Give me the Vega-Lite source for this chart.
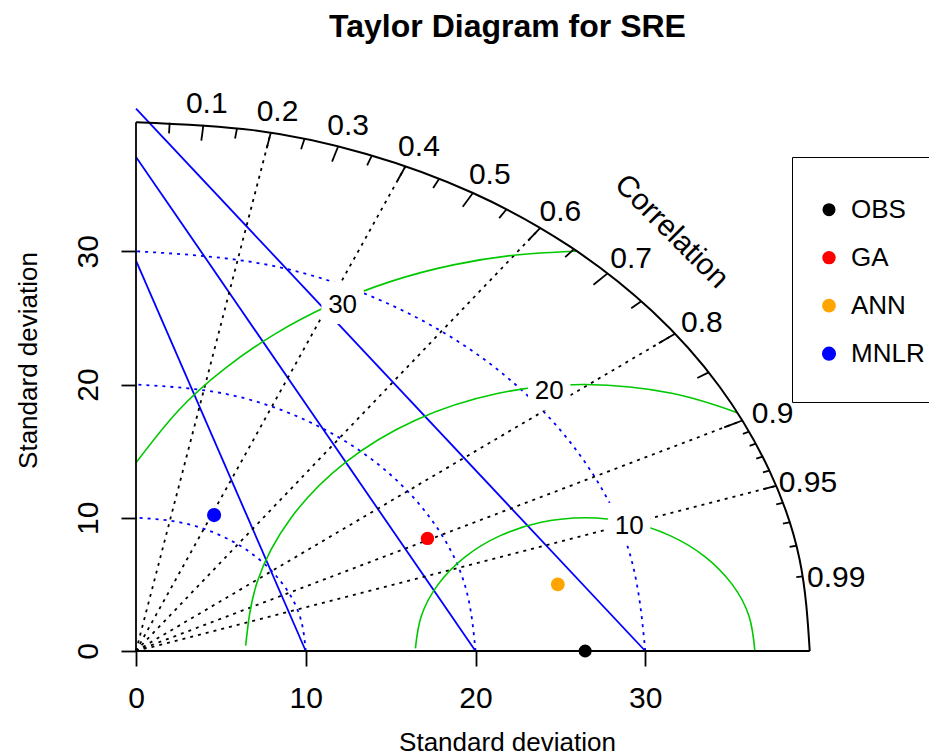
{
  "$schema": "https://vega.github.io/schema/vega-lite/v6.json",
  "width": 679,
  "height": 533,
  "autosize": {"type": "none"},
  "padding": {"left": 136, "top": 118, "right": 114, "bottom": 103},
  "background": "white",
  "title": {"text": "Taylor Diagram for SRE", "fontSize": 32, "fontWeight": "bold", "font": "Liberation Sans", "color": "black", "anchor": "middle", "frame": "group", "dx": 32, "baseline": "alphabetic", "offset": 20},
  "config": {"view": {"stroke": null}, "font": "Liberation Sans"},
  "datasets": {
    "curves": [
      {"kind": "outer", "g": "o", "i": 0, "x": 39.69, "y": 0},
      {"kind": "outer", "g": "o", "i": 1, "x": 39.09, "y": 6.89},
      {"kind": "outer", "g": "o", "i": 2, "x": 37.30, "y": 13.57},
      {"kind": "outer", "g": "o", "i": 3, "x": 34.37, "y": 19.85},
      {"kind": "outer", "g": "o", "i": 4, "x": 30.40, "y": 25.51},
      {"kind": "outer", "g": "o", "i": 5, "x": 25.51, "y": 30.40},
      {"kind": "outer", "g": "o", "i": 6, "x": 19.85, "y": 34.37},
      {"kind": "outer", "g": "o", "i": 7, "x": 13.57, "y": 37.30},
      {"kind": "outer", "g": "o", "i": 8, "x": 6.89, "y": 39.09},
      {"kind": "outer", "g": "o", "i": 9, "x": 0, "y": 39.69},
      {"kind": "sd", "g": "s10", "i": 0, "x": 10, "y": 0},
      {"kind": "sd", "g": "s10", "i": 1, "x": 9.659, "y": 2.588},
      {"kind": "sd", "g": "s10", "i": 2, "x": 8.66, "y": 5},
      {"kind": "sd", "g": "s10", "i": 3, "x": 7.071, "y": 7.071},
      {"kind": "sd", "g": "s10", "i": 4, "x": 5, "y": 8.66},
      {"kind": "sd", "g": "s10", "i": 5, "x": 2.588, "y": 9.659},
      {"kind": "sd", "g": "s10", "i": 6, "x": 0, "y": 10},
      {"kind": "sd", "g": "s20", "i": 0, "x": 20, "y": 0},
      {"kind": "sd", "g": "s20", "i": 1, "x": 19.32, "y": 5.176},
      {"kind": "sd", "g": "s20", "i": 2, "x": 17.32, "y": 10},
      {"kind": "sd", "g": "s20", "i": 3, "x": 14.14, "y": 14.14},
      {"kind": "sd", "g": "s20", "i": 4, "x": 10, "y": 17.32},
      {"kind": "sd", "g": "s20", "i": 5, "x": 5.176, "y": 19.32},
      {"kind": "sd", "g": "s20", "i": 6, "x": 0, "y": 20},
      {"kind": "sd", "g": "s30", "i": 0, "x": 30, "y": 0},
      {"kind": "sd", "g": "s30", "i": 1, "x": 28.98, "y": 7.765},
      {"kind": "sd", "g": "s30", "i": 2, "x": 25.98, "y": 15},
      {"kind": "sd", "g": "s30", "i": 3, "x": 21.21, "y": 21.21},
      {"kind": "sd", "g": "s30", "i": 4, "x": 15, "y": 25.98},
      {"kind": "sd", "g": "s30", "i": 5, "x": 7.765, "y": 28.98},
      {"kind": "sd", "g": "s30", "i": 6, "x": 0, "y": 30},
      {"kind": "gam", "g": "g10", "i": 0, "x": 36.46, "y": 0},
      {"kind": "gam", "g": "g10", "i": 1, "x": 36.12, "y": 2.588},
      {"kind": "gam", "g": "g10", "i": 2, "x": 35.12, "y": 5},
      {"kind": "gam", "g": "g10", "i": 3, "x": 33.53, "y": 7.071},
      {"kind": "gam", "g": "g10", "i": 4, "x": 31.46, "y": 8.66},
      {"kind": "gam", "g": "g10", "i": 5, "x": 29.05, "y": 9.659},
      {"kind": "gam", "g": "g10", "i": 6, "x": 26.46, "y": 10},
      {"kind": "gam", "g": "g10", "i": 7, "x": 23.87, "y": 9.659},
      {"kind": "gam", "g": "g10", "i": 8, "x": 21.46, "y": 8.66},
      {"kind": "gam", "g": "g10", "i": 9, "x": 19.39, "y": 7.071},
      {"kind": "gam", "g": "g10", "i": 10, "x": 17.80, "y": 5},
      {"kind": "gam", "g": "g10", "i": 11, "x": 16.80, "y": 2.588},
      {"kind": "gam", "g": "g10", "i": 12, "x": 16.46, "y": 0.2},
      {"kind": "gam", "g": "g20", "i": 0, "x": 35.45, "y": 17.87},
      {"kind": "gam", "g": "g20", "i": 1, "x": 31.64, "y": 19.32},
      {"kind": "gam", "g": "g20", "i": 2, "x": 26.46, "y": 20},
      {"kind": "gam", "g": "g20", "i": 3, "x": 21.28, "y": 19.32},
      {"kind": "gam", "g": "g20", "i": 4, "x": 16.46, "y": 17.32},
      {"kind": "gam", "g": "g20", "i": 5, "x": 12.32, "y": 14.14},
      {"kind": "gam", "g": "g20", "i": 6, "x": 9.14, "y": 10},
      {"kind": "gam", "g": "g20", "i": 7, "x": 7.14, "y": 5.176},
      {"kind": "gam", "g": "g20", "i": 8, "x": 6.46, "y": 0.4},
      {"kind": "gam", "g": "g30", "i": 0, "x": 25.99, "y": 30.0},
      {"kind": "gam", "g": "g30", "i": 1, "x": 22.55, "y": 29.74},
      {"kind": "gam", "g": "g30", "i": 2, "x": 18.70, "y": 28.98},
      {"kind": "gam", "g": "g30", "i": 3, "x": 14.98, "y": 27.72},
      {"kind": "gam", "g": "g30", "i": 4, "x": 11.46, "y": 25.98},
      {"kind": "gam", "g": "g30", "i": 5, "x": 8.20, "y": 23.80},
      {"kind": "gam", "g": "g30", "i": 6, "x": 5.25, "y": 21.21},
      {"kind": "gam", "g": "g30", "i": 7, "x": 2.50, "y": 18.05},
      {"kind": "gam", "g": "g30", "i": 8, "x": 0, "y": 14.13}
    ],
    "segs": [
      {"kind": "axis", "x": 0, "y": 0, "x2": 39.69, "y2": 0},
      {"kind": "axis", "x": 0, "y": 0, "x2": 0, "y2": 39.69},
      {"kind": "bline", "x": 0, "y": 29.3, "x2": 10, "y2": 0},
      {"kind": "bline", "x": 0, "y": 37.08, "x2": 20, "y2": 0},
      {"kind": "bline", "x": 0, "y": 40.71, "x2": 30, "y2": 0},
      {"kind": "cor", "x": 0, "y": 0, "x2": 7.938, "y2": 38.89},
      {"kind": "cor", "x": 0, "y": 0, "x2": 15.876, "y2": 36.38},
      {"kind": "cor", "x": 0, "y": 0, "x2": 23.814, "y2": 31.75},
      {"kind": "cor", "x": 0, "y": 0, "x2": 31.752, "y2": 23.81},
      {"kind": "cor", "x": 0, "y": 0, "x2": 35.721, "y2": 17.30},
      {"kind": "cor", "x": 0, "y": 0, "x2": 37.706, "y2": 12.39},
      {"kind": "tick", "x": 3.969, "y": 39.49, "x2": 3.850, "y2": 38.31},
      {"kind": "tick", "x": 7.938, "y": 38.89, "x2": 7.700, "y2": 37.72},
      {"kind": "tick", "x": 11.907, "y": 37.86, "x2": 11.55, "y2": 36.73},
      {"kind": "tick", "x": 15.876, "y": 36.38, "x2": 15.40, "y2": 35.29},
      {"kind": "tick", "x": 19.845, "y": 34.37, "x2": 19.25, "y2": 33.34},
      {"kind": "tick", "x": 23.814, "y": 31.75, "x2": 23.10, "y2": 30.80},
      {"kind": "tick", "x": 27.783, "y": 28.34, "x2": 26.95, "y2": 27.49},
      {"kind": "tick", "x": 31.752, "y": 23.81, "x2": 30.80, "y2": 23.10},
      {"kind": "tick", "x": 35.721, "y": 17.30, "x2": 34.65, "y2": 16.78},
      {"kind": "tick", "x": 1.985, "y": 39.64, "x2": 1.945, "y2": 38.85},
      {"kind": "tick", "x": 5.954, "y": 39.24, "x2": 5.835, "y2": 38.46},
      {"kind": "tick", "x": 9.923, "y": 38.43, "x2": 9.725, "y2": 37.66},
      {"kind": "tick", "x": 13.892, "y": 37.18, "x2": 13.615, "y2": 36.44},
      {"kind": "tick", "x": 17.861, "y": 35.44, "x2": 17.505, "y2": 34.74},
      {"kind": "tick", "x": 21.830, "y": 33.15, "x2": 21.395, "y2": 32.49},
      {"kind": "tick", "x": 25.799, "y": 30.16, "x2": 25.285, "y2": 29.56},
      {"kind": "tick", "x": 29.768, "y": 26.25, "x2": 29.175, "y2": 25.73},
      {"kind": "tick", "x": 33.737, "y": 20.91, "x2": 33.065, "y2": 20.49},
      {"kind": "tick", "x": 37.706, "y": 12.39, "x2": 36.955, "y2": 12.15},
      {"kind": "tick", "x": 36.118, "y": 16.46, "x2": 35.754, "y2": 16.29},
      {"kind": "tick", "x": 36.515, "y": 15.56, "x2": 36.147, "y2": 15.40},
      {"kind": "tick", "x": 36.912, "y": 14.59, "x2": 36.540, "y2": 14.44},
      {"kind": "tick", "x": 37.309, "y": 13.54, "x2": 36.933, "y2": 13.40},
      {"kind": "tick", "x": 38.102, "y": 11.11, "x2": 37.718, "y2": 11.00},
      {"kind": "tick", "x": 38.499, "y": 9.649, "x2": 38.111, "y2": 9.551},
      {"kind": "tick", "x": 38.896, "y": 7.898, "x2": 38.504, "y2": 7.819},
      {"kind": "tick", "x": 39.293, "y": 5.599, "x2": 38.897, "y2": 5.543}
    ],
    "labels": [
      {"kind": "cor", "label": "0.1", "x": 4.167, "y": 41.46},
      {"kind": "cor", "label": "0.2", "x": 8.335, "y": 40.83},
      {"kind": "cor", "label": "0.3", "x": 12.50, "y": 39.75},
      {"kind": "cor", "label": "0.4", "x": 16.67, "y": 38.19},
      {"kind": "cor", "label": "0.5", "x": 20.84, "y": 36.09},
      {"kind": "cor", "label": "0.6", "x": 25.00, "y": 33.34},
      {"kind": "cor", "label": "0.7", "x": 29.17, "y": 29.76},
      {"kind": "cor", "label": "0.8", "x": 33.34, "y": 25.00},
      {"kind": "cor", "label": "0.9", "x": 37.50, "y": 18.16},
      {"kind": "cor", "label": "0.95", "x": 39.59, "y": 13.01},
      {"kind": "cor", "label": "0.99", "x": 41.25, "y": 5.88},
      {"kind": "gam", "label": "10", "x": 29.05, "y": 9.53},
      {"kind": "gam", "label": "20", "x": 24.34, "y": 19.64},
      {"kind": "gam", "label": "30", "x": 12.17, "y": 26.14},
      {"kind": "title", "label": "Correlation", "x": 31.75, "y": 31.75}
    ],
    "pts": [
      {"model": "OBS", "x": 26.46, "y": 0},
      {"model": "GA", "x": 17.17, "y": 8.45},
      {"model": "ANN", "x": 24.85, "y": 5.0},
      {"model": "MNLR", "x": 4.6, "y": 10.2}
    ]
  },
  "encoding": {
    "x": {
      "field": "x", "type": "quantitative",
      "scale": {"domain": [0, 40], "nice": false, "zero": false},
      "axis": {
        "title": "Standard deviation", "values": [0, 10, 20, 30], "domain": false, "grid": false,
        "tickSize": 15, "tickWidth": 1.8, "tickColor": "black",
        "labelFontSize": 30, "labelFont": "Liberation Sans", "labelColor": "black",
        "labelAngle": 0, "labelAlign": "center", "labelBaseline": "middle", "labelPadding": 32,
        "labelFlush": false, "labelOverlap": false, "labelBound": false,
        "titleFontSize": 26, "titleFont": "Liberation Sans", "titleFontWeight": "normal", "titleColor": "black",
        "titleX": 371, "titleY": 99, "titleAlign": "center", "titleBaseline": "alphabetic", "titleAngle": 0
      }
    },
    "y": {
      "field": "y", "type": "quantitative",
      "scale": {"domain": [0, 40], "nice": false, "zero": false},
      "axis": {
        "title": "Standard deviation", "values": [0, 10, 20, 30], "domain": false, "grid": false,
        "tickSize": 15, "tickWidth": 1.8, "tickColor": "black",
        "labelFontSize": 30, "labelFont": "Liberation Sans", "labelColor": "black",
        "labelAngle": -90, "labelAlign": "center", "labelBaseline": "middle", "labelPadding": 33,
        "labelFlush": false, "labelOverlap": false, "labelBound": false,
        "titleFontSize": 26, "titleFont": "Liberation Sans", "titleFontWeight": "normal", "titleColor": "black",
        "titleX": -100, "titleY": 242, "titleAlign": "center", "titleBaseline": "alphabetic", "titleAngle": -90
      }
    }
  },
  "layer": [
    {
      "data": {"name": "curves"},
      "transform": [{"filter": "datum.kind === 'sd'"}],
      "mark": {"type": "line", "color": "#0000FF", "strokeWidth": 1.8, "strokeDash": [3, 5], "interpolate": "natural"},
      "encoding": {"detail": {"field": "g"}, "order": {"field": "i", "type": "quantitative"}}
    },
    {
      "data": {"name": "segs"},
      "transform": [{"filter": "datum.kind === 'bline'"}],
      "mark": {"type": "rule", "color": "#0000FF", "strokeWidth": 1.8},
      "encoding": {"x2": {"field": "x2"}, "y2": {"field": "y2"}}
    },
    {
      "data": {"name": "segs"},
      "transform": [{"filter": "datum.kind === 'cor'"}],
      "mark": {"type": "rule", "color": "black", "strokeWidth": 1.8, "strokeDash": [3, 5]},
      "encoding": {"x2": {"field": "x2"}, "y2": {"field": "y2"}}
    },
    {
      "data": {"name": "curves"},
      "transform": [{"filter": "datum.kind === 'gam'"}],
      "mark": {"type": "line", "color": "#00C800", "strokeWidth": 1.6, "interpolate": "natural"},
      "encoding": {"detail": {"field": "g"}, "order": {"field": "i", "type": "quantitative"}}
    },
    {
      "data": {"name": "curves"},
      "transform": [{"filter": "datum.kind === 'outer'"}],
      "mark": {"type": "line", "color": "black", "strokeWidth": 2, "interpolate": "natural"},
      "encoding": {"detail": {"field": "g"}, "order": {"field": "i", "type": "quantitative"}}
    },
    {
      "data": {"name": "segs"},
      "transform": [{"filter": "datum.kind === 'axis' || datum.kind === 'tick'"}],
      "mark": {"type": "rule", "color": "black", "strokeWidth": 1.8},
      "encoding": {"x2": {"field": "x2"}, "y2": {"field": "y2"}}
    },
    {
      "data": {"name": "labels"},
      "transform": [{"filter": "datum.kind === 'gam'"}],
      "mark": {"type": "point", "shape": "square", "filled": true, "color": "white", "opacity": 1, "size": 1800, "strokeWidth": 0}
    },
    {
      "data": {"name": "labels"},
      "transform": [{"filter": "datum.kind === 'gam'"}],
      "mark": {"type": "text", "fontSize": 26, "font": "Liberation Sans", "color": "black", "align": "center", "baseline": "middle", "dy": 2},
      "encoding": {"text": {"field": "label"}}
    },
    {
      "data": {"name": "labels"},
      "transform": [{"filter": "datum.kind === 'cor'"}],
      "mark": {"type": "text", "fontSize": 30, "font": "Liberation Sans", "color": "black", "align": "center", "baseline": "middle", "dy": 5},
      "encoding": {"text": {"field": "label"}}
    },
    {
      "data": {"name": "labels"},
      "transform": [{"filter": "datum.kind === 'title'"}],
      "mark": {"type": "text", "fontSize": 30, "font": "Liberation Sans", "color": "black", "align": "center", "baseline": "middle", "angle": 45, "dy": 5},
      "encoding": {"text": {"field": "label"}}
    },
    {
      "data": {"name": "pts"},
      "mark": {"type": "point", "shape": "circle", "filled": true, "opacity": 1, "strokeWidth": 0},
      "encoding": {
        "color": {
          "field": "model", "type": "nominal",
          "scale": {"domain": ["OBS", "GA", "ANN", "MNLR"], "range": ["black", "#FF0000", "#FFA500", "#0000FF"]},
          "legend": {
            "title": " ", "titleFontSize": 1, "titlePadding": 3.8,
            "orient": "none", "legendX": 656, "legendY": 39, "direction": "vertical",
            "strokeColor": "black", "fillColor": "white", "padding": 24,
            "labelFontSize": 26, "labelFont": "Liberation Sans", "labelColor": "black",
            "symbolSize": 130, "symbolType": "circle", "symbolStrokeWidth": 0,
            "labelOffset": 9,
            "clipHeight": 47.7, "rowPadding": 0,
            "encode": {"legend": {"update": {"strokeWidth": {"value": 1.6}}}}
          }
        },
        "size": {
          "field": "model", "type": "nominal",
          "scale": {"domain": ["OBS", "GA", "ANN", "MNLR"], "range": [170, 200, 120, 120]},
          "legend": null
        }
      }
    }
  ]
}
